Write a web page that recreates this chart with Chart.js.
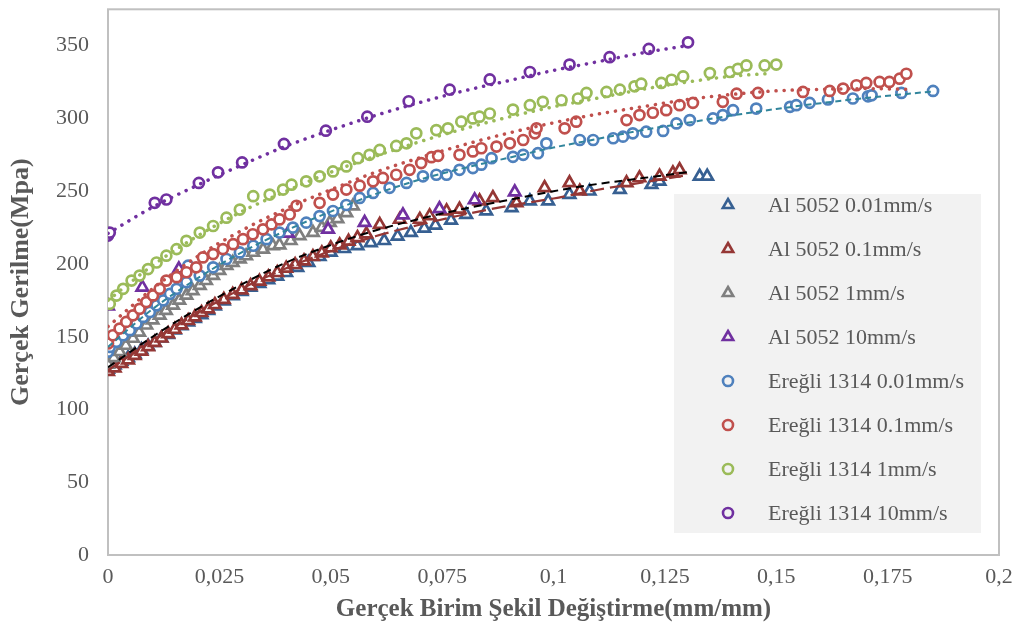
<!DOCTYPE html>
<html>
<head>
<meta charset="utf-8">
<script src="https://cdn.jsdelivr.net/npm/chart.js@4.4.0/dist/chart.umd.min.js"></script>
<style>
  body { margin: 0; background: #fff; }
  canvas { display: block; }
</style>
</head>
<body>
<canvas id="grafik" width="1016" height="635"></canvas>
<script>
// Al 5052 0.01mm/s
const al001X = [0, 0.0015, 0.003, 0.0045, 0.006, 0.0075, 0.009, 0.0105, 0.012, 0.0135, 0.015, 0.0165, 0.018, 0.0195, 0.021, 0.0225, 0.024, 0.026, 0.028, 0.030, 0.032, 0.034, 0.036, 0.038, 0.040, 0.0425, 0.045, 0.0475, 0.050, 0.053, 0.056, 0.059, 0.062, 0.065, 0.068, 0.071, 0.0735, 0.077, 0.0804, 0.0849, 0.0906, 0.0947, 0.0988, 0.1036, 0.1081, 0.1149, 0.122, 0.1238, 0.1328, 0.1345];
const al001Y = [127.5, 130.5, 133, 135.5, 138, 141, 143.5, 146, 149, 151.5, 154.5, 157.5, 160, 162.5, 165, 168, 171, 174.5, 178, 181, 184, 186.5, 189, 191.5, 194, 197.5, 201, 205, 208, 210.5, 212.5, 214.5, 216, 219, 221.5, 224.5, 226.5, 230, 234, 236.4, 238.6, 243.2, 243.2, 247.7, 250, 251.1, 254.5, 256.8, 260.2, 260.2];
// Al 5052 0.1mm/s
const al01X = [0, 0.0015, 0.003, 0.0045, 0.006, 0.0075, 0.009, 0.0105, 0.012, 0.0135, 0.015, 0.0165, 0.018, 0.0195, 0.021, 0.0225, 0.024, 0.026, 0.028, 0.030, 0.032, 0.034, 0.036, 0.038, 0.040, 0.042, 0.044, 0.046, 0.048, 0.050, 0.052, 0.054, 0.056, 0.058, 0.061, 0.0655, 0.070, 0.0722, 0.076, 0.0789, 0.0834, 0.0864, 0.0917, 0.098, 0.1036, 0.1059, 0.1164, 0.1193, 0.1238, 0.1268, 0.1283];
const al01Y = [126, 128.5, 131.5, 134, 137, 140, 143, 146, 149, 152, 155, 158, 161, 163.5, 166.5, 169, 172, 175.5, 179, 182, 185, 188, 191, 194, 197, 199.5, 202, 205, 207.5, 211, 213, 215.5, 218, 220.5, 227, 230.6, 230.6, 233, 236.4, 237.5, 243.2, 245.4, 242, 252.3, 255.7, 250, 255.7, 259.1, 260.2, 262.5, 264.7];
// Al 5052 1mm/s
const al1X = [0, 0.0013, 0.0026, 0.004, 0.0056, 0.007, 0.0086, 0.010, 0.0116, 0.013, 0.0146, 0.016, 0.0176, 0.019, 0.0206, 0.022, 0.0236, 0.025, 0.0266, 0.028, 0.0296, 0.031, 0.0326, 0.0348, 0.037, 0.0385, 0.041, 0.043, 0.046, 0.048, 0.0498, 0.0515, 0.0535, 0.055];
const al1Y = [131, 135.5, 139.7, 144, 148.8, 153, 157.9, 161.5, 164.7, 168, 171.6, 175, 178.4, 181.5, 185.2, 188.5, 192, 195.5, 198.8, 201, 203.4, 205.5, 207.9, 210, 212.5, 213, 216, 219.3, 221.6, 225, 228.4, 231, 235.2, 239.8];
// Al 5052 10mm/s
const al10X = [0, 0.0077, 0.0159, 0.0404, 0.0494, 0.0576, 0.0662, 0.0744, 0.0823, 0.0913];
const al10Y = [171, 184, 196.5, 221, 223.8, 228.4, 233.6, 237.9, 244, 249.4];
// Ereğli 1314 0.01mm/s
const er001X = [0, 0.0004, 0.0019, 0.0034, 0.0049, 0.0064, 0.0079, 0.0094, 0.0109, 0.0124, 0.0139, 0.0154, 0.0176, 0.018, 0.0206, 0.0236, 0.0266, 0.0296, 0.0326, 0.0356, 0.0385, 0.0415, 0.0445, 0.0475, 0.0505, 0.0535, 0.0565, 0.0595, 0.0632, 0.067, 0.0707, 0.0737, 0.076, 0.0789, 0.0819, 0.0838, 0.0861, 0.0909, 0.0932, 0.0965, 0.0984, 0.1059, 0.1089, 0.1134, 0.1156, 0.1178, 0.1208, 0.1246, 0.1276, 0.1306, 0.1358, 0.138, 0.1403, 0.1455, 0.1531, 0.1545, 0.1575, 0.1616, 0.1672, 0.1706, 0.1714, 0.1781, 0.1852];
const er001Y = [139.7, 143, 146.5, 151, 154.5, 159, 163.6, 167, 171.6, 175, 179.5, 182.9, 187.5, 198.8, 192, 197.7, 203.4, 207.9, 212.5, 217, 221.6, 225, 228.4, 232.9, 236.4, 240.5, 245.4, 248.8, 252.3, 255.7, 260.2, 261.3, 261.3, 264.7, 265.9, 268.2, 272.7, 273.6, 275, 276.1, 282.9, 285.2, 285.2, 286.4, 287.5, 289.8, 290.9, 291.4, 296.6, 298.9, 300, 302.3, 305.7, 306.8, 308, 309.1, 310.7, 313, 313.7, 315.2, 315.9, 317.5, 318.9];
// Ereğli 1314 0.1mm/s
const er01X = [0, 0.0011, 0.0026, 0.0041, 0.0056, 0.0071, 0.0086, 0.0101, 0.0116, 0.0131, 0.0154, 0.0176, 0.0198, 0.0213, 0.0236, 0.0258, 0.0281, 0.0303, 0.0325, 0.0348, 0.0367, 0.0385, 0.0408, 0.0423, 0.0475, 0.0505, 0.0535, 0.0565, 0.0595, 0.0617, 0.0647, 0.0677, 0.0703, 0.0726, 0.0741, 0.0789, 0.0819, 0.0838, 0.0872, 0.0902, 0.0932, 0.0958, 0.0962, 0.1025, 0.1051, 0.1164, 0.1193, 0.1223, 0.1253, 0.1283, 0.1313, 0.138, 0.1411, 0.1459, 0.156, 0.162, 0.165, 0.168, 0.1702, 0.1732, 0.1754, 0.1777, 0.1792];
const er01Y = [145.4, 151, 155.6, 160.2, 164.7, 169.2, 173.8, 178.4, 182.9, 188.6, 190.9, 194.3, 197.7, 204.5, 206.8, 210.2, 213.6, 217, 220.4, 223.8, 227.2, 230.6, 234, 240, 242, 247.7, 251.1, 253.8, 256.8, 259.1, 261.3, 264.7, 269.3, 273.4, 274.3, 275, 277.3, 279.5, 280.7, 282.9, 285.2, 289.8, 293.2, 293.2, 297.8, 298.9, 302.3, 303.9, 305.7, 309.1, 310.7, 311.4, 317, 317.5, 318.2, 318.9, 320.5, 322.8, 324.4, 325.1, 325.1, 327.3, 330.7];
// Ereğli 1314 1mm/s
const er1X = [0.0004, 0.0019, 0.0034, 0.0053, 0.0071, 0.009, 0.0109, 0.0131, 0.0154, 0.0176, 0.0206, 0.0236, 0.0266, 0.0296, 0.0326, 0.0363, 0.0393, 0.0412, 0.0445, 0.0475, 0.0505, 0.0535, 0.0561, 0.0587, 0.061, 0.0647, 0.067, 0.0692, 0.0737, 0.0763, 0.0793, 0.0819, 0.0834, 0.0857, 0.0909, 0.0947, 0.0976, 0.1018, 0.1055, 0.1074, 0.1119, 0.1149, 0.1182, 0.1197, 0.1242, 0.1265, 0.1291, 0.1351, 0.1396, 0.1414, 0.1433, 0.1474, 0.15];
const er1Y = [172.6, 178.3, 182.9, 188.6, 192, 196.5, 201, 205.7, 210.2, 215.9, 221.6, 226.1, 231.8, 237.4, 246.6, 247.7, 251.1, 254.5, 256.8, 260.2, 263.6, 267, 272.7, 275, 278.4, 281.1, 282.9, 289.8, 292, 293.2, 297.8, 300, 301.2, 303.4, 306.1, 309.1, 311.4, 312.5, 313.7, 317.5, 318.2, 319.8, 322.1, 323.9, 324.4, 326.6, 328.9, 331.2, 331.9, 334.1, 336.4, 336.4, 337];
// Ereğli 1314 10mm/s
const er10X = [0, 0.0004, 0.0105, 0.0131, 0.0204, 0.0247, 0.0301, 0.0395, 0.0489, 0.0582, 0.0675, 0.0767, 0.0857, 0.0947, 0.1036, 0.1126, 0.1214, 0.1302];
const er10Y = [219.5, 221.6, 242, 244.3, 255.7, 263, 269.8, 282.5, 291.6, 301.2, 311.8, 319.8, 326.8, 331.9, 337, 342.1, 347.8, 352.3];

// egilim cizgileri (okunan noktalar)
const trendX = [0, 0.01, 0.02, 0.03, 0.04, 0.05, 0.06, 0.07, 0.08, 0.09, 0.10, 0.11, 0.12, 0.13];
const trendAlY = [129, 150, 169, 186, 201, 213, 223, 231, 238, 244, 250, 255, 259, 263];
const trendAl01Y = [127, 147, 166, 183, 197, 209, 219, 227, 234, 240, 245, 251, 256, 261];
const trendEr10Y = [221, 239, 254, 268, 281, 292, 302, 311, 319, 326, 333, 339, 345, 350];
const trendEr1X = [0, 0.01, 0.02, 0.03, 0.04, 0.05, 0.06, 0.07, 0.08, 0.09, 0.10, 0.11, 0.12, 0.13, 0.14, 0.149];
const trendEr1Y = [175, 199, 219, 236, 250, 263, 274, 284, 293, 301, 308, 314, 320, 325, 329, 331];
const trendEr01X = [0, 0.01, 0.02, 0.03, 0.04, 0.05, 0.06, 0.07, 0.08, 0.09, 0.10, 0.11, 0.12, 0.13, 0.14, 0.15, 0.16, 0.17, 0.18];
const trendEr01Y = [157, 183, 205, 223, 238, 251, 263, 273, 282, 290, 297, 303, 308, 313, 316.5, 319, 320, 320.5, 320];
const trendEr001X = [0, 0.01, 0.02, 0.03, 0.04, 0.05, 0.06, 0.07, 0.08, 0.09, 0.10, 0.11, 0.12, 0.13, 0.14, 0.15, 0.16, 0.17, 0.185];
const trendEr001Y = [143, 169, 190, 208, 223, 236, 248, 258, 266, 273, 280, 286, 292, 297, 302, 306.5, 310.5, 314, 318.5];

const xTickValues = [0, 0.025, 0.05, 0.075, 0.1, 0.125, 0.15, 0.175, 0.2];
const xTickLabels = ['0', '0,025', '0,05', '0,075', '0,1', '0,125', '0,15', '0,175', '0,2'];
const yTickValues = [0, 50, 100, 150, 200, 250, 300, 350];
const yTickLabels = ['0', '50', '100', '150', '200', '250', '300', '350'];

const seriesNames = ['Al 5052 0.01mm/s', 'Al 5052 0.1mm/s', 'Al 5052 1mm/s', 'Al 5052 10mm/s',
  'Ereğli 1314 0.01mm/s', 'Ereğli 1314 0.1mm/s', 'Ereğli 1314 1mm/s', 'Ereğli 1314 10mm/s'];
const seriesColors = ['#376092', '#953735', '#7f7f7f', '#7030a0', '#4f81bd', '#c0504d', '#9bbb59', '#7030a0'];
const seriesMarkers = ['triangle', 'triangle', 'triangle', 'triangle', 'circle', 'circle', 'circle', 'circle'];

const textColor = '#595959';
const fontFam = '"Liberation Serif", "Times New Roman", serif';

function pts(xs, ys) {
  return xs.map((x, i) => ({ x: x, y: ys[i] }));
}

const seriesData = [
  pts(al001X, al001Y), pts(al01X, al01Y), pts(al1X, al1Y), pts(al10X, al10Y),
  pts(er001X, er001Y), pts(er01X, er01Y), pts(er1X, er1Y), pts(er10X, er10Y)
];

const datasets = seriesData.map((d, i) => ({
  label: seriesNames[i],
  data: d,
  showLine: false,
  pointStyle: seriesMarkers[i],
  pointRadius: seriesMarkers[i] === 'triangle' ? 6.6 : 5,
  pointBorderWidth: 2.7,
  pointBackgroundColor: '#ffffff',
  pointBorderColor: seriesColors[i],
  borderColor: seriesColors[i],
  backgroundColor: '#ffffff',
  order: 20 - i
}));

function trend(xs, ys, color, width, dash, cap) {
  return {
    label: '',
    data: pts(xs, ys),
    showLine: true,
    pointRadius: 0,
    borderColor: color,
    borderWidth: width,
    borderDash: dash,
    borderCapStyle: cap,
    cubicInterpolationMode: 'monotone',
    fill: false,
    order: 0
  };
}

datasets.push(
  trend(trendX, trendAl01Y, '#953735', 2.2, [14, 6], 'butt'),
  trend(trendX, trendAlY, '#000000', 2, [8, 5], 'butt'),
  trend(trendEr001X, trendEr001Y, '#31859c', 2, [6, 4], 'butt'),
  trend(trendEr01X, trendEr01Y, '#c0504d', 3.5, [0.1, 8], 'round'),
  trend(trendEr1X, trendEr1Y, '#9bbb59', 3.5, [0.1, 8], 'round'),
  trend(trendX, trendEr10Y, '#7030a0', 3.5, [0.1, 8], 'round')
);

// cerceve
const frame = {
  id: 'frame',
  beforeDatasetsDraw(chart) {
    const a = chart.chartArea;
    const ctx = chart.ctx;
    ctx.save();
    ctx.strokeStyle = '#c0c0c0';
    ctx.lineWidth = 2;
    ctx.strokeRect(a.left, a.top, a.right - a.left, a.bottom - a.top);
    ctx.restore();
  }
};

// gosterge kutusu
const legendBox = {
  id: 'legendBox',
  afterDraw(chart) {
    const ctx = chart.ctx;
    ctx.save();
    ctx.fillStyle = '#f2f2f2';
    ctx.fillRect(674, 194, 307, 339);
    ctx.font = '22px ' + fontFam;
    ctx.textBaseline = 'middle';
    seriesNames.forEach((name, i) => {
      const y = 205 + i * 44;
      const x = 728;
      ctx.strokeStyle = seriesColors[i];
      ctx.lineWidth = 2.6;
      ctx.beginPath();
      if (seriesMarkers[i] === 'triangle') {
        const r = 6;
        ctx.moveTo(x, y - r);
        ctx.lineTo(x + r * 0.866, y + r * 0.5);
        ctx.lineTo(x - r * 0.866, y + r * 0.5);
        ctx.closePath();
      } else {
        ctx.arc(x, y, 5, 0, Math.PI * 2);
      }
      ctx.stroke();
      ctx.fillStyle = textColor;
      ctx.fillText(name, 768, y + 1);
    });
    ctx.restore();
  }
};

const ctxGrafik = document.getElementById('grafik').getContext('2d');
const grafik = new Chart(ctxGrafik, {
  type: 'scatter',
  data: { datasets: datasets },
  options: {
    responsive: false,
    animation: false,
    layout: { padding: { top: 5, right: 17, left: 0, bottom: 0 } },
    plugins: {
      legend: { display: false },
      tooltip: { enabled: false }
    },
    scales: {
      x: {
        type: 'linear',
        min: 0,
        max: 0.2,
        grid: { display: false, drawTicks: false },
        border: { display: false },
        afterBuildTicks: s => { s.ticks = xTickValues.map(v => ({ value: v })); },
        afterFit: s => { s.height = 80; s.paddingLeft = 0; s.paddingRight = 0; },
        ticks: {
          callback: (v, i) => xTickLabels[i],
          padding: 9,
          maxRotation: 0,
          autoSkip: false,
          color: textColor,
          font: { family: fontFam, size: 22 }
        },
        title: {
          display: true,
          text: 'Gerçek Birim Şekil Değiştirme(mm/mm)',
          color: textColor,
          font: { family: fontFam, size: 25, weight: 'bold' },
          padding: { top: 2, bottom: 10 }
        }
      },
      y: {
        type: 'linear',
        min: 0,
        max: 375,
        grid: { display: false, drawTicks: false },
        border: { display: false },
        afterBuildTicks: s => { s.ticks = yTickValues.map(v => ({ value: v })); },
        afterFit: s => { s.width = 108; s.paddingTop = 0; s.paddingBottom = 0; },
        ticks: {
          callback: (v, i) => yTickLabels[i],
          padding: 19,
          color: textColor,
          font: { family: fontFam, size: 22 }
        },
        title: {
          display: true,
          text: 'Gerçek Gerilme(Mpa)',
          color: textColor,
          font: { family: fontFam, size: 26, weight: 'bold' },
          padding: { top: 6, bottom: 0 }
        }
      }
    }
  },
  plugins: [frame, legendBox]
});
</script>
</body>
</html>
